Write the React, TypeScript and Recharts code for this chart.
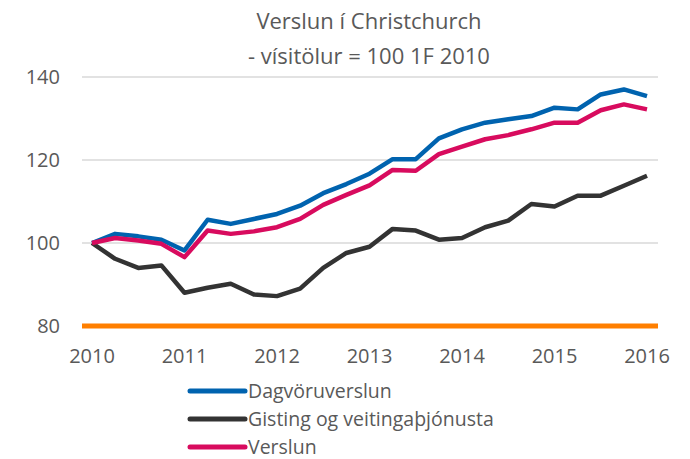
import { CartesianGrid, Line, LineChart, XAxis, YAxis } from "recharts"

const quarters = [
  "2010-1", "2010-2", "2010-3", "2010-4",
  "2011-1", "2011-2", "2011-3", "2011-4",
  "2012-1", "2012-2", "2012-3", "2012-4",
  "2013-1", "2013-2", "2013-3", "2013-4",
  "2014-1", "2014-2", "2014-3", "2014-4",
  "2015-1", "2015-2", "2015-3", "2015-4",
  "2016-1",
]
const yearTicks = ["2010-1", "2011-1", "2012-1", "2013-1", "2014-1", "2015-1", "2016-1"]
const valueTicks = [80, 100, 120, 140]

const dagvoruverslun = [100, 102.2, 101.6, 100.8, 98.2, 105.6, 104.6, 105.8, 107, 109, 112, 114.2, 116.7, 120.2, 120.2, 125.2, 127.4, 129, 129.8, 130.6, 132.6, 132.2, 135.8, 137, 135.4]
const gisting = [100, 96.2, 94, 94.6, 88, 89.2, 90.2, 87.6, 87.2, 89, 94, 97.6, 99.1, 103.4, 103, 100.8, 101.2, 103.8, 105.4, 109.4, 108.8, 111.4, 111.4, 113.8, 116.2]
const verslun = [100, 101.2, 100.6, 99.8, 96.6, 103, 102.2, 102.8, 103.8, 105.8, 109.2, 111.6, 113.9, 117.6, 117.4, 121.4, 123.2, 125, 126, 127.4, 129, 129, 132, 133.4, 132.2]

const series = [
  { key: "dagvoru", name: "Dagvöruverslun", color: "#0063AF" },
  { key: "gisting", name: "Gisting og veitingaþjónusta", color: "#333333" },
  { key: "verslun", name: "Verslun", color: "#D80B5E" },
]

const data = quarters.map((q, i) => ({
  q,
  dagvoru: dagvoruverslun[i],
  gisting: gisting[i],
  verslun: verslun[i],
}))

const font = "'Open Sans', sans-serif"
const textColor = "#595959"

export default function App() {
  return (
    <div style={{ position: "absolute", left: 0, top: 0, width: 690, height: 459, fontFamily: font, background: "#fff" }}>
      <div
        style={{
          position: "absolute",
          left: 169,
          top: 3,
          width: 400,
          textAlign: "center",
          color: textColor,
          fontSize: 22,
          lineHeight: "35px",
        }}
      >
        <div>Verslun í Christchurch</div>
        <div>- vísitölur = 100 1F 2010</div>
      </div>
      <LineChart width={690} height={459} data={data} margin={{ top: 77, right: 32, bottom: 103, left: 22 }}>
        <CartesianGrid vertical={false} stroke="#d9d9d9" strokeWidth={1.5} />
        <XAxis
          dataKey="q"
          ticks={yearTicks}
          tickFormatter={(q: string) => q.split("-")[0]}
          interval={0}
          padding={{ left: 10, right: 11 }}
          axisLine={{ stroke: "#FF7F00", strokeWidth: 5 }}
          tickLine={false}
          tickSize={0}
          tickMargin={23}
          height={30}
          tick={{ fill: textColor, fontSize: 20, fontFamily: font }}
        />
        <YAxis
          domain={[80, 140]}
          ticks={valueTicks}
          axisLine={false}
          tickLine={false}
          tickSize={0}
          tickMargin={22}
          width={60}
          tick={{ fill: textColor, fontSize: 20, fontFamily: font }}
        />
        {series.map((s) => (
          <Line
            key={s.key}
            type="linear"
            dataKey={s.key}
            name={s.name}
            stroke={s.color}
            strokeWidth={4.5}
            strokeLinejoin="round"
            dot={false}
            activeDot={false}
            isAnimationActive={false}
          />
        ))}
      </LineChart>
      <div style={{ position: "absolute", left: 186, top: 377 }}>
        {series.map((s) => (
          <div key={s.key} style={{ display: "flex", alignItems: "center", height: 28 }}>
            <svg width={62} height={10}>
              <line x1={4} y1={5} x2={59} y2={5} stroke={s.color} strokeWidth={5} strokeLinecap="round" />
            </svg>
            <span style={{ color: textColor, fontSize: 19.5, lineHeight: "18px", whiteSpace: "nowrap" }}>{s.name}</span>
          </div>
        ))}
      </div>
    </div>
  )
}
